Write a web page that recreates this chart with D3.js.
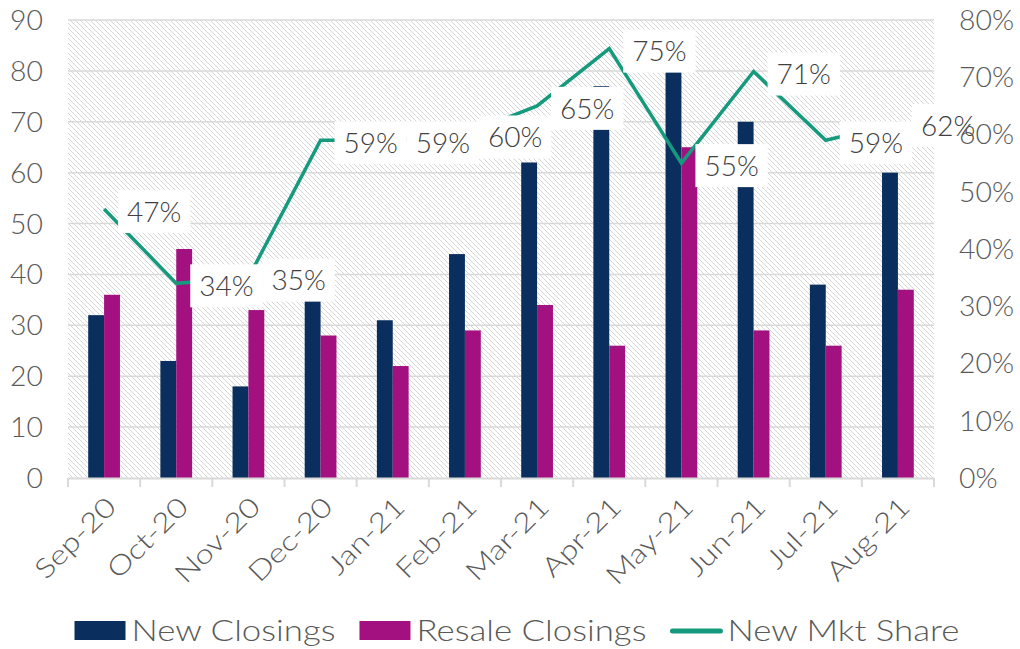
<!DOCTYPE html>
<html>
<head>
<meta charset="utf-8">
<script src="https://cdn.jsdelivr.net/npm/d3@7"></script>
<style>
  html, body { margin: 0; padding: 0; background: #fff; }
  svg { display: block; }
  text { font-family: "Lato", "Open Sans", sans-serif; font-weight: 300; }
</style>
</head>
<body>
<svg id="chart" width="1020" height="649"></svg>
<script>
// ---- data ----
const categories = ["Sep-20","Oct-20","Nov-20","Dec-20","Jan-21","Feb-21","Mar-21","Apr-21","May-21","Jun-21","Jul-21","Aug-21"];
const newClosings = [32, 23, 18, 35.5, 31, 44, 62, 77, 80, 70, 38, 60];
const resaleClosings = [36, 45, 33, 28, 22, 29, 34, 26, 65, 29, 26, 37];
const newMktShare = [0.47, 0.34, 0.35, 0.59, 0.59, 0.60, 0.65, 0.75, 0.55, 0.71, 0.59, 0.62];
const leftTicks = [0, 10, 20, 30, 40, 50, 60, 70, 80, 90];
const rightTicks = [0, 0.1, 0.2, 0.3, 0.4, 0.5, 0.6, 0.7, 0.8];
const seriesNames = ["New Closings", "Resale Closings", "New Mkt Share"];

// ---- styles ----
const NAVY = "#0A2F5F", MAGENTA = "#A3107F", TEAL = "#169A7E";
const GRID = "#d9d9d9", AXIS_TXT = "#595959", LABEL_TXT = "#404040";
const WIDE = 1.2; // horizontal stretch to mimic a wide geometric face

function stretch(sel, f) {
  sel.each(function () {
    const w = this.getComputedTextLength();
    d3.select(this).attr("textLength", w * f).attr("lengthAdjust", "spacingAndGlyphs");
  });
}

const svg = d3.select("#chart");
const plot = { left: 68, right: 934, top: 20, bottom: 478 };

const x = d3.scaleBand().domain(categories).range([plot.left, plot.right]).padding(0);
const bw = x.bandwidth();
const x1 = d3.scaleBand().domain(["new", "resale"]).range([bw * 0.28, bw * 0.72]).padding(0);
const y = d3.scaleLinear().domain([0, 90]).range([plot.bottom, plot.top]);
const y2 = d3.scaleLinear().domain([0, 0.8]).range([plot.bottom, plot.top]);

// hatch pattern
const defs = svg.append("defs");
const pat = defs.append("pattern").attr("id", "hatch").attr("patternUnits", "userSpaceOnUse")
  .attr("width", 5).attr("height", 5);
pat.append("rect").attr("width", 5).attr("height", 5).attr("fill", "#fff");
pat.append("path").attr("d", "M-1,-1 L6,6 M-1,4 L1,6 M4,-1 L6,1")
  .attr("stroke", "#d6d6d6").attr("stroke-width", 1);

svg.append("rect").attr("x", plot.left).attr("y", plot.top)
  .attr("width", plot.right - plot.left).attr("height", plot.bottom - plot.top)
  .attr("fill", "url(#hatch)");

// gridlines
svg.append("g").selectAll("line").data(leftTicks.filter(d => d > 0)).join("line")
  .attr("x1", plot.left).attr("x2", plot.right)
  .attr("y1", d => y(d)).attr("y2", d => y(d))
  .attr("stroke", GRID).attr("stroke-width", 1.5);

// left axis
const yAxis = d3.axisLeft(y).tickValues(leftTicks).tickSize(0).tickPadding(0).tickFormat(d3.format("d"));
const gy = svg.append("g").attr("transform", `translate(43,0)`).call(yAxis);
gy.select(".domain").remove();
gy.selectAll("text").attr("fill", AXIS_TXT).style("font-size", "27px").attr("dy", "0.35em");
stretch(gy.selectAll("text"), 1.05);

// bars
const barG = svg.append("g");
barG.selectAll("rect.new").data(categories).join("rect").attr("class", "new")
  .attr("x", d => x(d) + x1("new")).attr("width", x1.bandwidth())
  .attr("y", (d, i) => y(newClosings[i])).attr("height", (d, i) => y(0) - y(newClosings[i]))
  .attr("fill", NAVY);
barG.selectAll("rect.resale").data(categories).join("rect").attr("class", "resale")
  .attr("x", d => x(d) + x1("resale")).attr("width", x1.bandwidth())
  .attr("y", (d, i) => y(resaleClosings[i])).attr("height", (d, i) => y(0) - y(resaleClosings[i]))
  .attr("fill", MAGENTA);

// bottom axis
const xAxis = d3.axisBottom(x).tickSize(0).tickFormat("");
const gx = svg.append("g").attr("transform", `translate(0,${plot.bottom})`).call(xAxis);
gx.select(".domain").attr("stroke", GRID).attr("stroke-width", 2);
gx.selectAll(".tick").remove();
const bounds = categories.map(c => x(c)).concat([plot.right]);
svg.append("g").selectAll("line").data(bounds).join("line")
  .attr("x1", d => d).attr("x2", d => d).attr("y1", plot.bottom).attr("y2", plot.bottom + 9)
  .attr("stroke", GRID).attr("stroke-width", 2);
const xl = svg.append("g").selectAll("text").data(categories).join("text")
  .attr("transform", d => `translate(${x(d) + bw / 2 + 7},${plot.bottom + 24}) rotate(-45)`)
  .attr("text-anchor", "end").attr("dy", "0.35em")
  .attr("fill", AXIS_TXT).style("font-size", "27px")
  .text(d => d);
stretch(xl, WIDE);

// line
const line = d3.line().x((d, i) => x(categories[i]) + bw / 2).y(d => y2(d));
svg.append("path").datum(newMktShare).attr("d", line)
  .attr("fill", "none").attr("stroke", TEAL).attr("stroke-width", 3.5).attr("stroke-linejoin", "miter");

// data labels
const lblG = svg.append("g");
newMktShare.forEach((v, i) => {
  const px = x(categories[i]) + bw / 2, py = y2(v);
  const g = lblG.append("g");
  const t = g.append("text").attr("x", px + 23).attr("y", py + 3).attr("dy", "0.35em")
    .attr("fill", LABEL_TXT).style("font-size", "28px").text(d3.format(".0%")(v));
  const w = t.node().getComputedTextLength();
  g.insert("rect", "text").attr("x", px + 14).attr("y", py - 19)
    .attr("width", w + 18).attr("height", 43).attr("fill", "#fff");
});

// right axis (drawn above data labels, as in the reference)
const y2Axis = d3.axisRight(y2).tickValues(rightTicks).tickSize(0).tickPadding(0).tickFormat(d3.format(".0%"));
const gy2 = svg.append("g").attr("transform", `translate(959,0)`).call(y2Axis);
gy2.select(".domain").remove();
gy2.selectAll("text").attr("fill", AXIS_TXT).style("font-size", "27px").attr("dy", "0.35em");
stretch(gy2.selectAll("text"), 1.05);

// legend
const leg = svg.append("g");
const items = [
  { name: seriesNames[0], type: "rect", color: NAVY },
  { name: seriesNames[1], type: "rect", color: MAGENTA },
  { name: seriesNames[2], type: "line", color: TEAL }
];
let cx = 0;
const legY = 631;
items.forEach(it => {
  if (it.type === "rect") {
    leg.append("rect").attr("x", cx).attr("y", legY - 10).attr("width", 51).attr("height", 19).attr("fill", it.color);
  } else {
    leg.append("line").attr("x1", cx + 2).attr("x2", cx + 50).attr("y1", legY).attr("y2", legY)
      .attr("stroke", it.color).attr("stroke-width", 5).attr("stroke-linecap", "round");
  }
  const t = leg.append("text").attr("x", cx + 57).attr("y", legY).attr("dy", "0.35em")
    .attr("fill", AXIS_TXT).style("font-size", "29px").text(it.name);
  const w = t.node().getComputedTextLength() * WIDE;
  t.attr("textLength", w).attr("lengthAdjust", "spacingAndGlyphs");
  cx += 57 + w + 24;
});
const total = cx - 24;
leg.attr("transform", `translate(${517 - total / 2},0)`);
</script>
</body>
</html>
